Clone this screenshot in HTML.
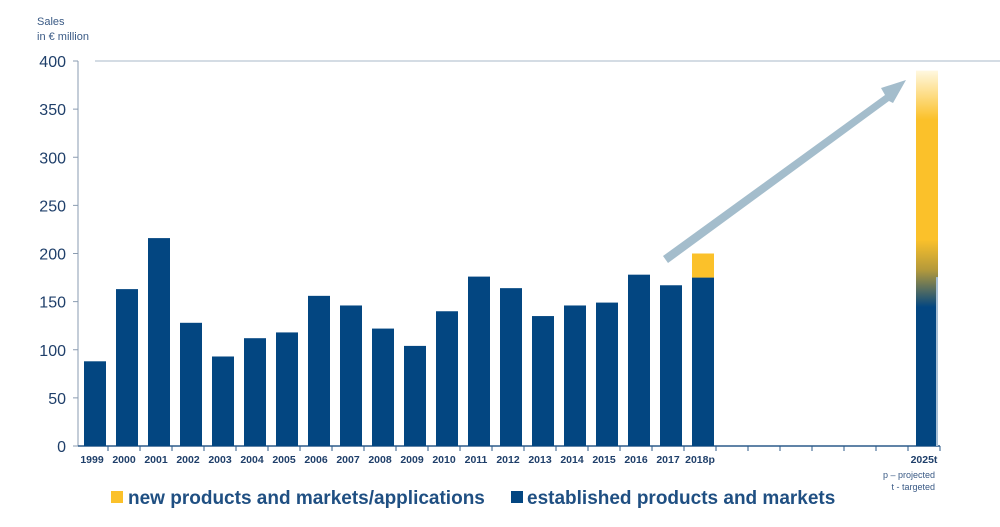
<!DOCTYPE html>
<html><head><meta charset="utf-8"><style>
body{margin:0;background:#fff;width:1000px;height:522px;overflow:hidden;font-family:"Liberation Sans",Arial,sans-serif}
</style></head><body>
<svg id="chart" width="1000" height="522" xmlns="http://www.w3.org/2000/svg">
<defs>
<linearGradient id="g25" x1="0" y1="1" x2="0" y2="0">
<stop offset="0" stop-color="#034681"/>
<stop offset="0.37" stop-color="#034681"/>
<stop offset="0.47" stop-color="#b59a3a"/>
<stop offset="0.55" stop-color="#fbc12a"/>
<stop offset="0.87" stop-color="#fbc12a"/>
<stop offset="1" stop-color="#fff8e0"/>
</linearGradient>
</defs>
<text x="37" y="25" font-size="11" fill="#3a5a85">Sales</text>
<text x="37" y="40" font-size="11" fill="#3a5a85">in € million</text>
<g id="axes"></g><g id="bars"></g>
<polygon points="663,256 885,95 881,88 906,80 893,103 889,101 668,263" fill="#a4bdcc"/>
<g>
<rect x="111" y="491" width="12" height="12" fill="#fbc12a"/>
<text x="128" y="504" font-size="19" font-weight="bold" fill="#1f4f82">new products and markets/applications</text>
<rect x="511" y="491" width="12" height="12" fill="#034681"/>
<text x="527" y="504" font-size="19" font-weight="bold" fill="#1f4f82">established products and markets</text>
</g>
<text x="935" y="478" font-size="9" fill="#3a5a85" text-anchor="end">p – projected</text>
<text x="935" y="490" font-size="9" fill="#3a5a85" text-anchor="end">t - targeted</text>
</svg>
<script>
const categories=["1999","2000","2001","2002","2003","2004","2005","2006","2007","2008","2009","2010","2011","2012","2013","2014","2015","2016","2017","2018p","","","","","","","2025t"];
const established=[88,163,216,128,93,112,118,156,146,122,104,140,176,164,135,146,149,178,167,175,null,null,null,null,null,null,null];
const newProducts=[0,0,0,0,0,0,0,0,0,0,0,0,0,0,0,0,0,0,0,25,null,null,null,null,null,null,null];
const target2025=[390];
const yTicks=[0,50,100,150,200,250,300,350,400];
const NS="http://www.w3.org/2000/svg";
const x0=78,slot=32,y0=446,k=385/400;
const y=v=>y0-v*k;
const xs=i=>x0+i*slot;
function mk(t,a,p){const e=document.createElementNS(NS,t);for(const q in a)e.setAttribute(q,a[q]);p.appendChild(e);return e;}
const ax=document.getElementById('axes'),bg=document.getElementById('bars');
let l=mk('line',{x1:x0,y1:y(0),x2:x0,y2:y(400),stroke:'#8a9bb0','stroke-width':1},ax);

l=mk('line',{x1:95,y1:y(400),x2:1000,y2:y(400),stroke:'#a8b8c8','stroke-width':1},ax);

yTicks.forEach(v=>{
 const t=mk('line',{x1:x0-5,y1:y(v),x2:x0,y2:y(v),stroke:'#8a9bb0'},ax);
 
 const tx=mk('text',{x:66,y:y(v)+6,'font-size':16,fill:'#1f3f6a','text-anchor':'end'},ax);tx.textContent=v;
 
});
l=mk('line',{x1:x0,y1:y0,x2:xs(categories.length)-2,y2:y0,stroke:'#2b5a8a','stroke-width':1.5},ax);

categories.forEach((c,i)=>{
 const t=mk('line',{x1:xs(i+1)-2,y1:y0,x2:xs(i+1)-2,y2:y0+5,stroke:'#2b5a8a'},ax);
 
 if(c){const tx=mk('text',{x:xs(i)+slot/2-2,y:y0+17,'font-size':10.5,'font-weight':'bold',fill:'#1f3f6a','text-anchor':'middle'},ax);tx.textContent=c;
 }
 const bx=xs(i)+6,bw=22;
 if(established[i]!=null){
  const r=mk('rect',{x:bx,y:y(established[i]),width:bw,height:established[i]*k,fill:'#034681'},bg);
  
  if(newProducts[i]>0){const r2=mk('rect',{x:bx,y:y(established[i]+newProducts[i]),width:bw,height:newProducts[i]*k,fill:'#fbc12a'},bg);
  }
 }
 if(c==='2025t'){
  const r=mk('rect',{x:bx,y:y(target2025[0]),width:bw,height:target2025[0]*k,fill:'url(#g25)'},bg);
  
  const e=mk('rect',{x:bx+bw-2,y:y(target2025[0]*0.45),width:2,height:target2025[0]*0.45*k,fill:'#a8c0d6'},bg);
  
 }
});
</script>
</body></html>
